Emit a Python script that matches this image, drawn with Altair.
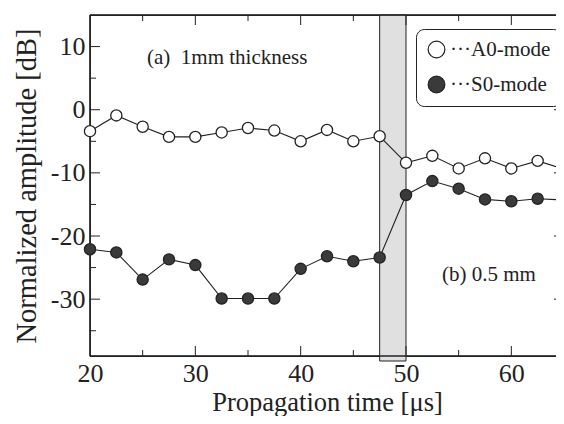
import altair as alt
import pandas as pd

# ---- data ----
times = [20, 22.5, 25, 27.5, 30, 32.5, 35, 37.5, 40, 42.5, 45, 47.5,
         50, 52.5, 55, 57.5, 60, 62.5, 65]
a0_mode = [-3.4, -0.9, -2.7, -4.3, -4.3, -3.6, -2.9, -3.3, -5.0, -3.2, -5.0, -4.2,
           -8.4, -7.3, -9.3, -7.7, -9.3, -8.1, -9.4]
s0_mode = [-22.1, -22.6, -26.9, -23.7, -24.6, -29.9, -29.9, -29.9, -25.2, -23.2, -24.0, -23.4,
           -13.5, -11.3, -12.5, -14.2, -14.5, -14.1, -14.3]
series_names = ["A0-mode", "S0-mode"]
band_start = [47.5]
band_end = [50.0]
x_major = [30, 40, 50, 60]
x_minor = [25, 35, 45, 55]
y_major = [10, 0, -10, -20, -30]
y_minor = [5, -5, -15, -25, -35]
x_labels = [20, 30, 40, 50, 60]
y_labels = [10, 0, -10, -20, -30]
x_range = [20, 65]
y_range = [-39, 15]
note_a = "(a)\u00a0\u00a01mm thickness"
note_b = "(b) 0.5 mm"

W, H = 474, 341
FONT = "Liberation Serif"
INK = "#222222"

df = pd.DataFrame({
    "t": times * 2,
    "amp": a0_mode + s0_mode,
    "series": [series_names[0]] * len(times) + [series_names[1]] * len(times),
})

xs = alt.Scale(domain=x_range, nice=False, zero=False)
ys = alt.Scale(domain=y_range, nice=False, zero=False)

band = alt.Chart(pd.DataFrame({"s": band_start, "e": band_end})).mark_rect(
    fill="#e0e0e0", stroke=INK, strokeWidth=1
).encode(
    x=alt.X("s:Q", scale=xs, title="Propagation time [μs]",
            axis=alt.Axis(values=x_labels, tickSize=0, domain=False, grid=False,
                          labelFlush=False,
                          labelFont=FONT, labelFontSize=26, labelColor=INK,
                          labelPadding=4, titleFont=FONT, titleFontSize=26.5,
                          titleFontWeight="normal", titleColor=INK, titlePadding=3)),
    x2="e:Q",
    y=alt.value(0),
    y2=alt.value(H + 5),
)

# plot frame: vertical sides at the x-range ends, horizontal sides at the y-range ends
frame_v = alt.Chart(pd.DataFrame({"v": x_range})).mark_rule(color=INK, strokeWidth=1.6).encode(
    x=alt.X("v:Q", scale=xs), y=alt.value(0), y2=alt.value(H)
)
frame_h = alt.Chart(pd.DataFrame({"v": y_range})).mark_rule(color=INK, strokeWidth=1.6).encode(
    y=alt.Y("v:Q", scale=ys), x=alt.value(0), x2=alt.value(W)
)

lines = alt.Chart(df).mark_line(color=INK, strokeWidth=1.1).encode(
    x=alt.X("t:Q", scale=xs),
    y=alt.Y("amp:Q", scale=ys, title="Normalized amplitude [dB]",
            axis=alt.Axis(values=y_labels, tickSize=0, domain=False, grid=False,
                          labelExpr="'' + datum.value", labelFlush=False,
                          labelFont=FONT, labelFontSize=26, labelColor=INK,
                          labelPadding=5, titleFont=FONT, titleFontSize=28.5,
                          titleFontWeight="normal", titleColor=INK, titlePadding=9)),
    detail="series:N",
)

points = alt.Chart(df).mark_point(
    shape="circle", size=125, stroke=INK, strokeWidth=1.3, opacity=1, filled=False
).encode(
    x=alt.X("t:Q", scale=xs),
    y=alt.Y("amp:Q", scale=ys),
    fill=alt.Fill("series:N",
                  scale=alt.Scale(domain=series_names, range=["white", "#3a3a3a"]),
                  legend=alt.Legend(orient="none", legendX=326, legendY=14, title=None,
                                    labelExpr="'···' + datum.label",
                                    labelFont=FONT, labelFontSize=21, labelColor=INK,
                                    symbolType="circle", symbolSize=280,
                                    symbolStrokeColor=INK, symbolStrokeWidth=1.2,
                                    symbolOpacity=1,
                                    padding=10, rowPadding=12, labelOffset=3,
                                    strokeColor=INK, fillColor="white",
                                    cornerRadius=8)),
)

def tick_layer(vals, field, orient, length):
    d = pd.DataFrame({field: vals})
    m = alt.Chart(d).mark_rule(color=INK, strokeWidth=1)
    if orient == "left":
        return m.encode(y=alt.Y(f"{field}:Q", scale=ys), x=alt.value(0), x2=alt.value(length))
    if orient == "right":
        return m.encode(y=alt.Y(f"{field}:Q", scale=ys), x=alt.value(W - length), x2=alt.value(W))
    if orient == "bottom":
        return m.encode(x=alt.X(f"{field}:Q", scale=xs), y=alt.value(H), y2=alt.value(H - length))
    return m.encode(x=alt.X(f"{field}:Q", scale=xs), y=alt.value(0), y2=alt.value(length))

ticks = []
for o in ["left", "right"]:
    ticks.append(tick_layer(y_major, "v", o, 10))
    ticks.append(tick_layer(y_minor, "v", o, 6))
for o in ["top", "bottom"]:
    ticks.append(tick_layer(x_major, "v", o, 10))
    ticks.append(tick_layer(x_minor, "v", o, 6))

notes = alt.Chart(pd.DataFrame({"label": [note_a, note_b],
                                "px": [57, 352], "py": [43, 260]})).mark_text(
    font=FONT, fontSize=21, color=INK, align="left", baseline="middle"
).encode(
    text="label:N",
    x=alt.X("px:Q", scale=None),
    y=alt.Y("py:Q", scale=None),
)

chart = alt.layer(band, frame_v, frame_h, *ticks, lines, points, notes).properties(
    width=W, height=H,
    background="white",
    autosize=alt.AutoSizeParams(type="none"),
    padding={"left": 82, "top": 7, "right": -8, "bottom": 60},
).configure_view(
    stroke=INK, strokeWidth=1.2
)

chart.save("out.html", embed_options={"renderer": "svg", "actions": False})
